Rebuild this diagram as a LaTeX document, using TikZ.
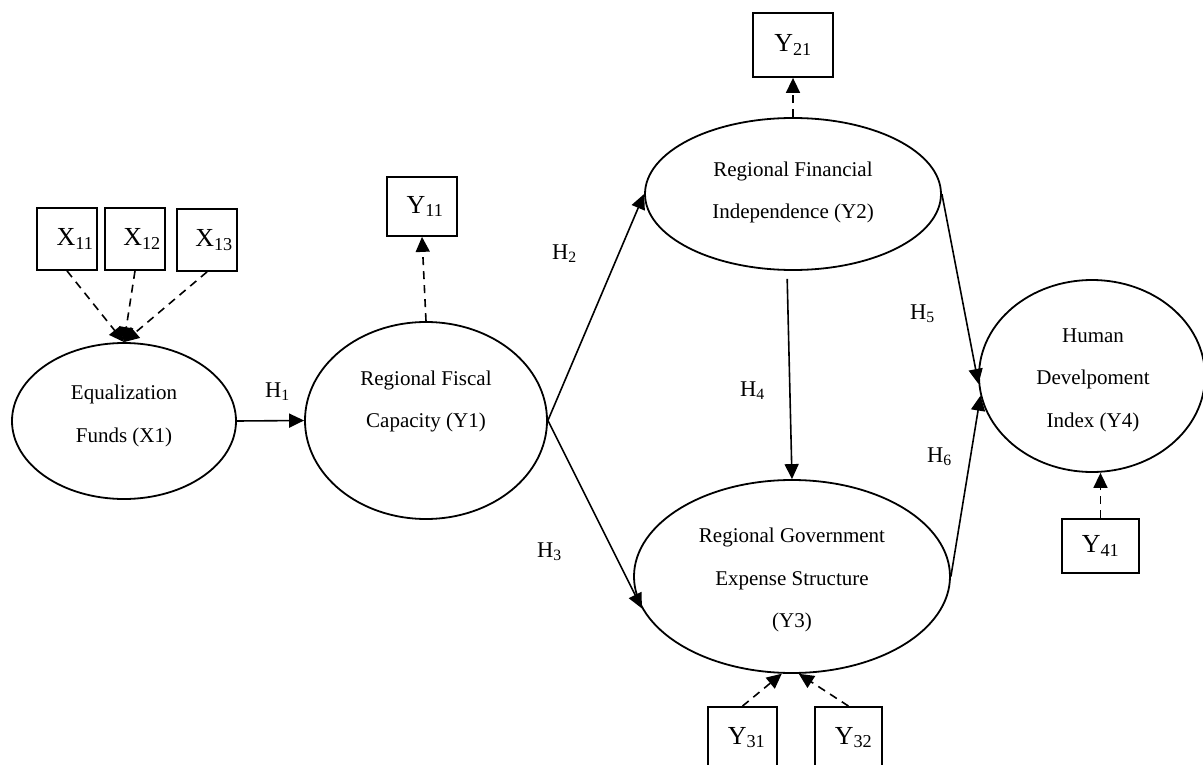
\documentclass[tikz,border=0pt]{standalone}
\usepackage{fontspec}
\setmainfont{Liberation Serif}
\usetikzlibrary{shapes.geometric,arrows.meta,calc}
\begin{document}
\begin{tikzpicture}[x=1pt,y=-1pt,
  latent/.style={ellipse, draw, line width=1.8pt, inner sep=0pt},
  obsbox/.style={rectangle, draw, line width=1.8pt, inner sep=0pt, font=\fontsize{26}{30}\selectfont},
  etext/.style={align=center, inner sep=0pt, font=\fontsize{21}{42.5}\selectfont},
  hlabel/.style={anchor=base west, inner sep=0pt, font=\fontsize{22.5}{26}\selectfont},
  solidarrow/.style={line width=1.6pt, -{Triangle[length=15pt,width=14pt]}},
  dasharrow/.style={solidarrow, dash pattern=on 8pt off 6pt}]
\useasboundingbox (0,0) rectangle (1203,765);

% latent variables
\node[latent, minimum width=224pt, minimum height=156pt] (x1) at (124,421) {};
\node[latent, minimum width=242pt, minimum height=197pt] (y1) at (426,420.5) {};
\node[latent, minimum width=296pt, minimum height=152pt] (y2) at (793,194) {};
\node[latent, minimum width=316pt, minimum height=193pt] (y3) at (792,576.5) {};
\node[latent, minimum width=226pt, minimum height=192pt] (y4) at (1092,376) {};

\node[etext] (x1t) at (124,416) {Equalization\\Funds (X1)};
\node[etext] (y1t) at (426,401.5) {Regional Fiscal\\Capacity (Y1)};
\node[etext] (y2t) at (793,192.5) {Regional Financial\\Independence (Y2)};
\node[etext] (y3t) at (792,580) {Regional Government\\Expense Structure\\(Y3)};
\node[etext] (y4t) at (1093,380) {Human\\Develpoment\\Index (Y4)};

% indicators
\node[obsbox, minimum width=60pt, minimum height=62pt] (x11) at (67,239) {\hspace*{16pt}X\textsubscript{11}};
\node[obsbox, minimum width=60pt, minimum height=62pt] (x12) at (135,239) {\hspace*{14pt}X\textsubscript{12}};
\node[obsbox, minimum width=60pt, minimum height=62pt] (x13) at (207,240) {\hspace*{14pt}X\textsubscript{13}};
\node[obsbox, minimum width=70pt, minimum height=59pt] (y11) at (422,206.5) {\hspace*{6pt}Y\textsubscript{11}};
\node[obsbox, minimum width=80pt, minimum height=64pt] (y21) at (793,45) {Y\textsubscript{21}};
\node[obsbox, minimum width=77pt, minimum height=54pt] (y41) at (1100.5,546) {Y\textsubscript{41}};
\node[obsbox, minimum width=69pt, minimum height=61pt] (y31) at (742.5,737.5) {\hspace*{8pt}Y\textsubscript{31}};
\node[obsbox, minimum width=67pt, minimum height=61pt] (y32) at (848.5,737.5) {\hspace*{10pt}Y\textsubscript{32}};

% measurement arrows
\draw[dasharrow] (x11.south) -- (x1.north);
\draw[dasharrow] (x12.south) -- (x1.north);
\draw[dasharrow] (x13.south) -- (x1.north);
\draw[dasharrow] (y1.north) -- (y11.south);
\draw[dasharrow] (y2.north) -- (y21.south);
\draw[dasharrow] (y41.north) -- (y41.north |- y4.south);
\draw[dasharrow] (y31.north) -- (y3.-96);
\draw[dasharrow] (y32.north) -- (y3.-86);

% structural paths
\draw[solidarrow] (x1.east) -- (y1.west);
\draw[solidarrow] (y1.east) -- (y2.west);
\draw[solidarrow] (y1.east) -- (y3.192);
\draw[solidarrow, shorten <=8pt] ($(y2.south)+(-6,0)$) -- (y3.north);
\draw[solidarrow] (y2.east) -- (y4.184);
\draw[solidarrow] (y3.east) -- (y4.190);

% hypothesis labels
\node[hlabel] (h1) at (265,397) {H\textsubscript{1}};
\node[hlabel] (h2) at (552,259) {H\textsubscript{2}};
\node[hlabel] (h3) at (537,557) {H\textsubscript{3}};
\node[hlabel] (h4) at (740,396) {H\textsubscript{4}};
\node[hlabel] (h5) at (910,319) {H\textsubscript{5}};
\node[hlabel] (h6) at (927,462) {H\textsubscript{6}};
\end{tikzpicture}
\end{document}
